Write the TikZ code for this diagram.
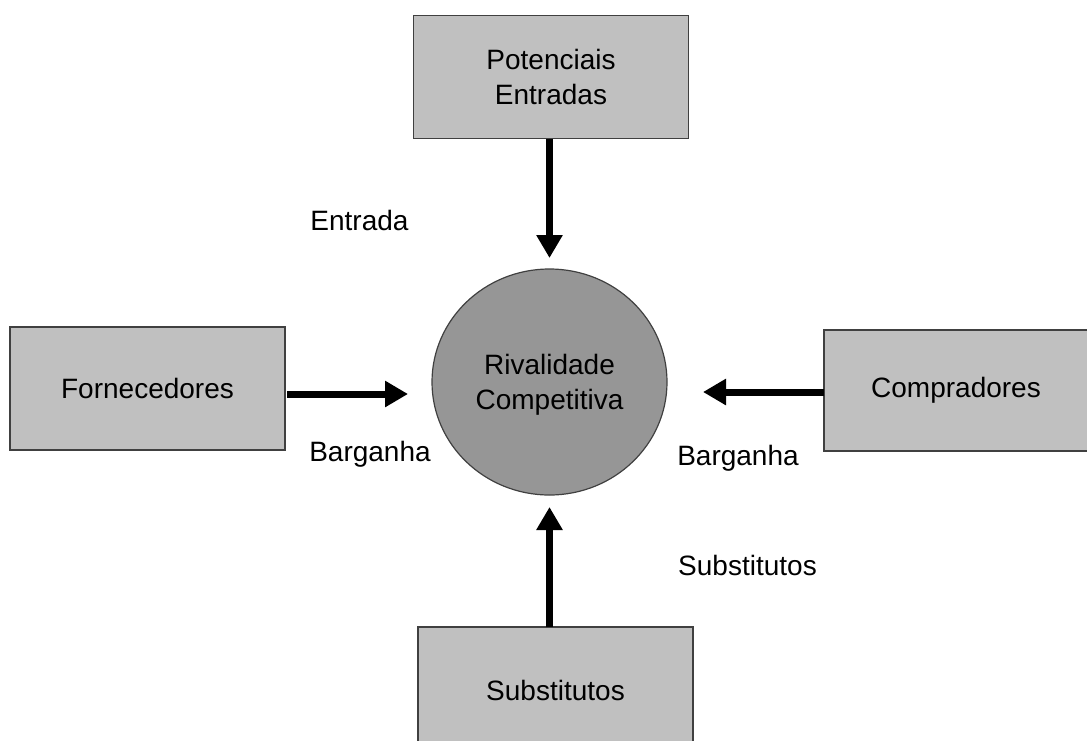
\documentclass[tikz,border=0pt]{standalone}
\usepackage{fontspec}
\setmainfont{Liberation Sans}
\usetikzlibrary{arrows.meta,shapes.geometric}
\definecolor{caixacinza}{HTML}{C0C0C0}
\definecolor{circulocinza}{HTML}{969696}
\definecolor{bordacinza}{HTML}{404040}

\begin{document}
\begin{tikzpicture}[x=0.5pt,y=-0.5pt,
    font=\fontsize{14pt}{17.5pt}\selectfont,
    caixa/.style={draw=bordacinza, line width=0.6pt, fill=caixacinza, inner sep=0pt, outer sep=0pt, align=center, minimum width=137.5pt, minimum height=61.5pt},
    forca/.style={line width=3.5pt, -{Triangle[width=12.5pt,length=11.5pt]}},
    rotulo/.style={inner sep=0pt}]
    \clip (0,0) rectangle (1087,740);
    \node[caixa] (potenciais) at (551,77) {Potenciais\\Entradas};
    \node[caixa] (fornecedores) at (147.5,388.5) {Fornecedores};
    \node[caixa, minimum width=132pt, minimum height=60.5pt] (compradores) at (956,390.5) {Compradores};
    \node[caixa, minimum height=63pt] (substitutos) at (555.5,690) {Substitutos};
    \node[ellipse, draw=bordacinza, line width=0.6pt, fill=circulocinza, inner sep=0pt, outer sep=0pt, align=center,
      minimum width=117.5pt, minimum height=113pt] (rivalidade) at (549.5,382) {};
    \node[align=center, inner sep=0pt] (rivalidadeTxt) at (549.5,385) {Rivalidade\\Competitiva};
    % forcas
    \draw[forca, shorten >=5.5pt] (potenciais.south -| rivalidade.north) -- (rivalidade.north);
    \draw[forca, shorten <=1pt, shorten >=12pt] ([yshift=-2.75pt]fornecedores.east) -- ([yshift=-2.75pt]fornecedores.east -| rivalidade.west);
    \draw[forca, shorten >=18pt] ([yshift=-0.75pt]compradores.west) -- ([yshift=-0.75pt]compradores.west -| rivalidade.east);
    \draw[forca, shorten >=6pt] (substitutos.north -| rivalidade.south) -- (rivalidade.south);
    % rotulos
    \node[rotulo] (entrada) at (359.5,220) {Entrada};
    \node[rotulo] (barganhaF) at (370,454) {Barganha};
    \node[rotulo] (barganhaC) at (738,458) {Barganha};
    \node[rotulo] (substitutosR) at (747.5,565) {Substitutos};
\end{tikzpicture}
\end{document}
